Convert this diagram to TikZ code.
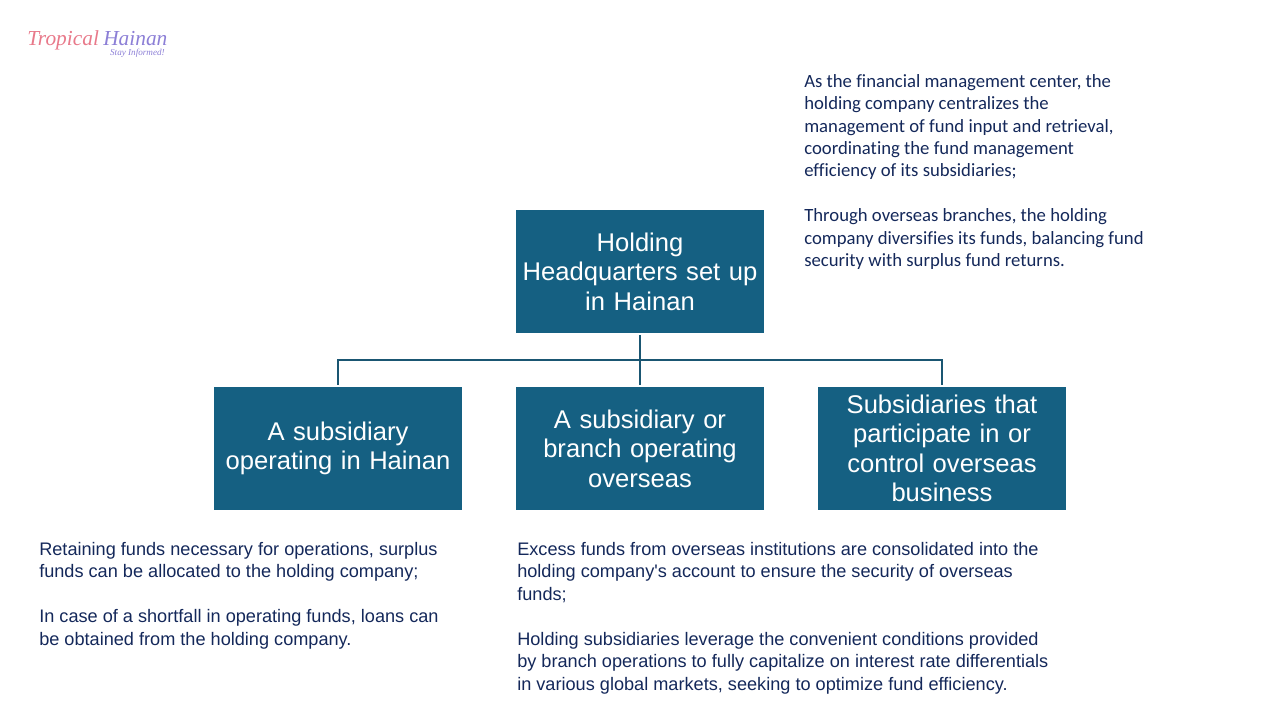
\documentclass[tikz,border=0pt]{standalone}
\usepackage{fontspec}
\setmainfont[Ligatures={TeXOff,NoCommon}]{Liberation Sans}
\newfontfamily\logofont{Liberation Serif}
\newfontfamily\topnotefont[Ligatures=NoCommon]{Carlito}
\usetikzlibrary{positioning}
\definecolor{boxblue}{HTML}{156082}
\definecolor{linkblue}{HTML}{1A5672}
\definecolor{notenavy}{HTML}{14285A}
\definecolor{logopink}{HTML}{E8798A}
\definecolor{logoviolet}{HTML}{8C7FD6}
\tikzset{
	orgbox/.style={fill=boxblue, text=white, minimum width=6.2cm, minimum height=3.075cm, text width=6.1cm, align=center, inner sep=0pt, font=\fontsize{18.2}{21}\selectfont},
	notetext/.style={text=notenavy, anchor=north west, align=left, inner sep=0pt, font=\fontsize{12.9}{15.95}\selectfont},
	topnote/.style={notetext, font=\topnotefont\fontsize{13.3}{15.95}\selectfont},
	logoword/.style={inner sep=0pt, anchor=base west, font=\logofont\itshape\fontsize{15.2}{17}\selectfont}
}
\tikzset{
	orglink/.style={line width=0.05cm, color=linkblue, shorten >=0.05cm, shorten <=0.05cm}
}

\begin{document}
\begin{tikzpicture}[x=0.025cm, y=-0.025cm]
		%%%%% START %%%%%
		\useasboundingbox (0, 0) rectangle (1280, 720);
		
		\node[orgbox] (holding) at (640, 271.5) {Holding\\Headquarters set up\\in Hainan};
		\node[orgbox] (hainan) at (338, 448.5) {A subsidiary\\operating in Hainan};
		\node[orgbox] (overseas) at (640, 448.5) {A subsidiary or\\branch operating\\overseas};
		\node[orgbox] (control) at (942, 448.5) {Subsidiaries that\\participate in or\\control overseas\\business};
		
		\coordinate (junction) at (640, 360);
		\draw[orglink] (holding) -- (overseas);
		\draw[orglink, shorten <=0pt] (junction) -| (hainan);
		\draw[orglink, shorten <=0pt] (junction) -| (control);
		
		\node[topnote] (holdingnote) at (804, 74) {As the financial management center, the\\holding company centralizes the\\management of fund input and retrieval,\\coordinating the fund management\\efficiency of its subsidiaries;\\[\baselineskip]Through overseas branches, the holding\\company diversifies its funds, balancing fund\\security with surplus fund returns.};
		\node[notetext] (hainannote) at (39, 542) {Retaining funds necessary for operations, surplus\\funds can be allocated to the holding company;\\[\baselineskip]In case of a shortfall in operating funds, loans can\\be obtained from the holding company.};
		\node[notetext] (overseasnote) at (517, 542) {Excess funds from overseas institutions are consolidated into the\\holding company's account to ensure the security of overseas\\funds;\\[\baselineskip]Holding subsidiaries leverage the convenient conditions provided\\by branch operations to fully capitalize on interest rate differentials\\in various global markets, seeking to optimize fund efficiency.};
		
		\node[logoword, text=logopink] (logotropical) at (27, 46) {Tropical};
		\node[logoword, text=logoviolet] (logohainan) at (103, 46) {Hainan};
		\node[text=logoviolet, inner sep=0pt, anchor=base east, font=\logofont\itshape\fontsize{6.5}{7}\selectfont] (logostay) at (165, 56) {Stay Informed!};
		
		%%%%% END %%%%%
	\end{tikzpicture}
\end{document}
